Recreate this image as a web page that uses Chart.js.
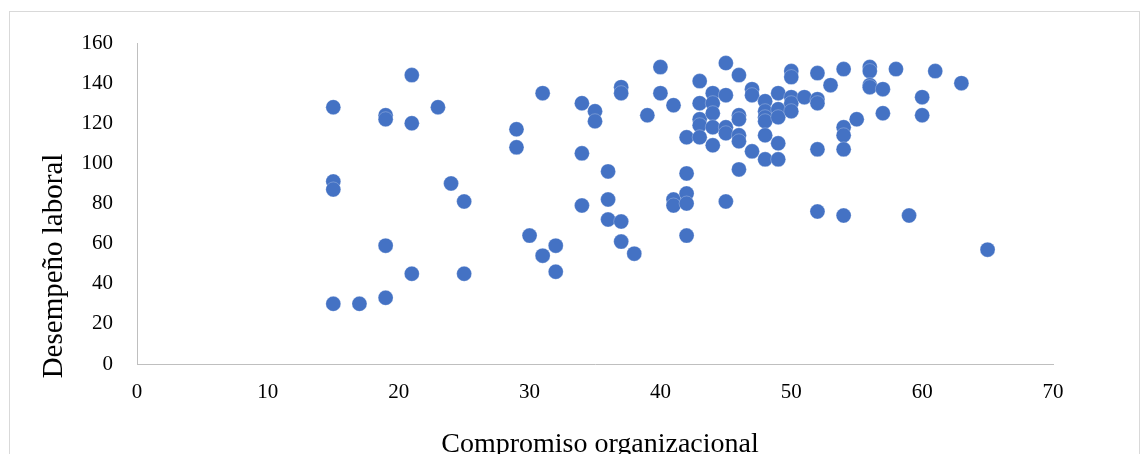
<!DOCTYPE html>
<html lang="es">
<head>
    <meta charset="UTF-8">
    <title>Compromiso organizacional vs Desempeño laboral</title>
    <script src="https://cdn.jsdelivr.net/npm/chart.js"></script>
    <style>
        html, body {
            margin: 0;
            padding: 0;
            background: #fff;
            overflow: hidden;
        }
        .frame {
            position: absolute;
            left: 9px;
            top: 11px;
            width: 1131px;
            height: 480px;
            border: 1px solid #d9d9d9;
            box-sizing: border-box;
        }
        .chart-wrapper {
            position: absolute;
            left: 0;
            top: 0;
            width: 1148px;
            height: 454px;
        }
    </style>
</head>
<body>
    <div class="frame"></div>
    <div class="chart-wrapper">
        <canvas id="scatter" width="1148" height="454"></canvas>
    </div>

    <script>
        // Compromiso organizacional (x) y Desempeño laboral (y)
        const compromiso = [
            15, 15, 15, 15,
            17,
            19, 19, 19, 19,
            21, 21, 21,
            23, 24, 25, 25,
            29, 29, 30, 31, 31, 32, 32,
            34, 34, 34, 35, 35,
            36, 36, 36,
            37, 37, 37, 37,
            38, 39, 40, 40,
            41, 41, 41,
            42, 42, 42, 42, 42,
            43, 43, 43, 43, 43,
            44, 44, 44, 44, 44,
            45, 45, 45, 45, 45,
            46, 46, 46, 46, 46, 46,
            47, 47, 47,
            48, 48, 48, 48, 48, 48,
            49, 49, 49, 49, 49,
            50, 50, 50, 50, 50,
            51,
            52, 52, 52, 52, 52,
            53,
            54, 54, 54, 54, 54,
            55,
            56, 56, 56, 56,
            57, 57, 58, 59, 60, 60, 61, 63, 65
        ];
        const desempeno = [
            128, 91, 87, 30,
            30,
            124, 122, 59, 33,
            144, 120, 45,
            128, 90, 81, 45,
            117, 108, 64, 135, 54, 59, 46,
            130, 105, 79, 126, 121,
            96, 82, 72,
            138, 135, 71, 61,
            55, 124, 148, 135,
            129, 82, 79,
            113, 95, 85, 80, 64,
            141, 130, 122, 119, 113,
            135, 130, 125, 118, 109,
            150, 134, 118, 115, 81,
            144, 124, 122, 114, 111, 97,
            137, 134, 106,
            131, 126, 123, 121, 114, 102,
            135, 127, 123, 110, 102,
            146, 143, 133, 130, 126,
            133,
            145, 132, 130, 107, 76,
            139,
            147, 118, 114, 107, 74,
            122,
            148, 146, 139, 138,
            137, 125, 147, 74, 133, 124, 146, 140, 57
        ];

        const xTitle = 'Compromiso organizacional';
        const yTitle = 'Desempeño laboral';

        const puntos = compromiso.map((x, i) => ({ x: x, y: desempeno[i] }));

        // titulos de ejes colocados como en el original
        const axisTitles = {
            id: 'axisTitles',
            afterDraw(chart) {
                const ctx = chart.ctx;
                ctx.save();
                ctx.fillStyle = '#000';
                ctx.textAlign = 'center';
                ctx.textBaseline = 'alphabetic';
                ctx.font = '28px "Liberation Serif", "Times New Roman", serif';
                ctx.fillText(xTitle, 600, 452);
                ctx.textBaseline = 'middle';
                ctx.font = '29px "Liberation Serif", "Times New Roman", serif';
                ctx.translate(54, 266);
                ctx.rotate(-Math.PI / 2);
                ctx.fillText(yTitle, 0, 0);
                ctx.restore();
            }
        };

        const tickFont = { family: '"Liberation Serif", "Times New Roman", serif', size: 21 };

        new Chart(document.getElementById('scatter'), {
            type: 'scatter',
            data: {
                datasets: [{
                    label: yTitle,
                    data: puntos,
                    backgroundColor: '#4472C4',
                    borderColor: 'rgba(255,255,255,0.5)',
                    borderWidth: 0.5,
                    pointRadius: 7.5,
                    pointHoverRadius: 7.5
                }]
            },
            options: {
                responsive: false,
                animation: false,
                devicePixelRatio: 1,
                layout: { padding: { top: 43, right: 95, bottom: 0, left: 0 } },
                plugins: {
                    legend: { display: false },
                    tooltip: { enabled: false }
                },
                scales: {
                    x: {
                        type: 'linear',
                        min: 0,
                        max: 70,
                        ticks: { stepSize: 10, color: '#000', font: tickFont, padding: 8 },
                        grid: { display: false },
                        border: { display: true, color: '#bfbfbf', width: 1 },
                        afterFit(scale) {
                            scale.height = 90;
                            scale.paddingLeft = 0;
                            scale.paddingRight = 0;
                        }
                    },
                    y: {
                        min: 0,
                        max: 160,
                        ticks: { stepSize: 20, color: '#000', font: tickFont, padding: 16 },
                        grid: { display: false },
                        border: { display: true, color: '#bfbfbf', width: 1 },
                        afterFit(scale) {
                            scale.width = 137;
                            scale.paddingTop = 0;
                            scale.paddingBottom = 0;
                        }
                    }
                }
            },
            plugins: [axisTitles]
        });
    </script>
</body>
</html>
